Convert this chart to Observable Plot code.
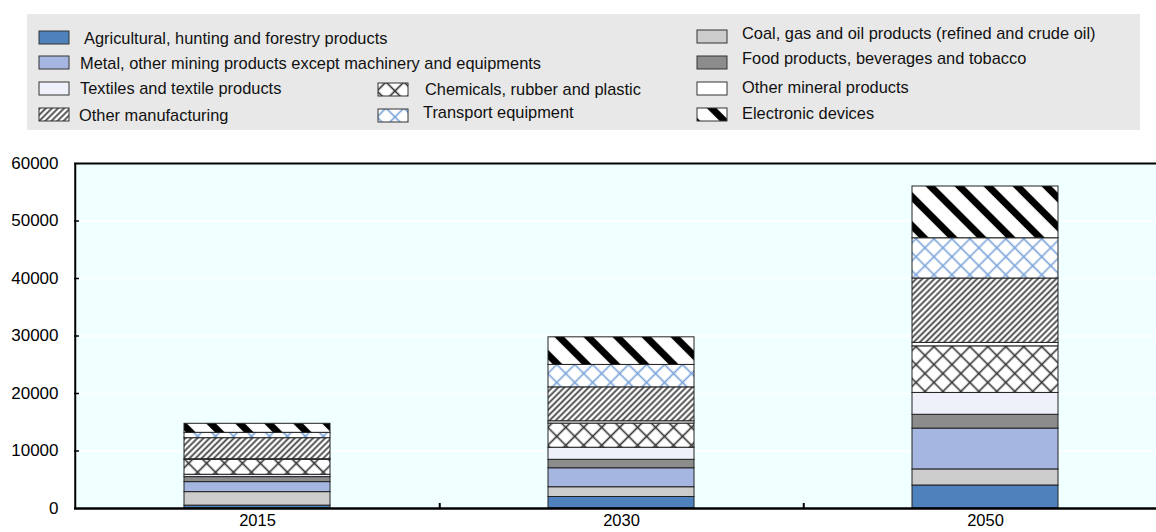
<!DOCTYPE html>
<html><head><meta charset="utf-8">
<script src="https://cdn.jsdelivr.net/npm/d3@7"></script>
<script src="https://cdn.jsdelivr.net/npm/@observablehq/plot@0.6"></script>
<style>
body{margin:0;background:#fff;font-family:"Liberation Sans",Arial,sans-serif;}
#wrap{position:relative;width:1156px;height:532px;overflow:hidden;}
#legendbg{position:absolute;left:27px;top:14px;width:1113px;height:116px;background:#e8e8e8;}
.lt{position:absolute;font-size:16.4px;line-height:20px;color:#111;white-space:nowrap;}
.ls{position:absolute;}
#chart{position:absolute;left:0;top:140px;}
</style></head><body>
<svg width="0" height="0" style="position:absolute">
<defs>
 <pattern id="p-chem" patternUnits="userSpaceOnUse" width="12.7" height="12.7" patternTransform="rotate(45)">
  <rect width="12.7" height="12.7" fill="#fff"/>
  <line x1="6.35" y1="0" x2="6.35" y2="12.7" stroke="#333" stroke-width="1.6"/>
  <line x1="0" y1="6.35" x2="12.7" y2="6.35" stroke="#333" stroke-width="1.6"/>
 </pattern>
 <pattern id="p-trans" patternUnits="userSpaceOnUse" width="12.7" height="12.7" patternTransform="rotate(45)">
  <rect width="12.7" height="12.7" fill="#fff"/>
  <line x1="6.35" y1="0" x2="6.35" y2="12.7" stroke="#7ba4da" stroke-width="1.6"/>
  <line x1="0" y1="6.35" x2="12.7" y2="6.35" stroke="#7ba4da" stroke-width="1.6"/>
 </pattern>
 <pattern id="p-manuf" patternUnits="userSpaceOnUse" width="4.3" height="4.3" patternTransform="rotate(45)">
  <rect width="4.3" height="4.3" fill="#fff"/>
  <line x1="2.15" y1="0" x2="2.15" y2="4.3" stroke="#444" stroke-width="1.8"/>
 </pattern>
 <pattern id="p-elec" patternUnits="userSpaceOnUse" width="20.5" height="20.5" patternTransform="rotate(-45)">
  <rect width="20.5" height="20.5" fill="#fff"/>
  <line x1="10.25" y1="0" x2="10.25" y2="20.5" stroke="#000" stroke-width="7"/>
 </pattern>
</defs></svg>
<div id="wrap"><div id="legendbg"></div><div id="chart"></div></div>
<script>
// ---- data ----
const years = ["2015", "2030", "2050"];
const seriesNames = [
  "Agricultural, hunting and forestry products",
  "Coal, gas and oil products (refined and crude oil)",
  "Metal, other mining products except machinery and equipments",
  "Food products, beverages and tobacco",
  "Textiles and textile products",
  "Chemicals, rubber and plastic",
  "Other mineral products",
  "Other manufacturing",
  "Transport equipment",
  "Electronic devices"
];
const agricultural  = [500, 2000, 4000];
const coalGasOil    = [2350, 1700, 2800];
const metalMining   = [1740, 3300, 7100];
const foodBeverages = [870, 1470, 2400];
const textiles      = [410, 2100, 3800];
const chemicals     = [2600, 4200, 8100];
const otherMineral  = [100, 400, 600];
const otherManuf    = [3660, 5900, 11200];
const transport     = [930, 3900, 7000];
const electronic    = [1570, 4800, 9000];
const yTicks = [0, 10000, 20000, 30000, 40000, 50000, 60000];

// ---- styles ----
const seriesValues = [agricultural, coalGasOil, metalMining, foodBeverages, textiles, chemicals, otherMineral, otherManuf, transport, electronic];
const fills = ["#4f81bd", "#cccccc", "#a5b7e0", "#8c8c8c", "#eef1f9", "url(#p-chem)", "#ffffff", "url(#p-manuf)", "url(#p-trans)", "url(#p-elec)"];

const rows = [];
seriesNames.forEach((s, i) => years.forEach((y, j) => rows.push({year: y, series: s, value: seriesValues[i][j], fill: fills[i]})));

// ---- legend layout ----
const legendLayout = [
  {i: 0, sx: 39, sy: 37, tx: 84, ty: 38},
  {i: 2, sx: 39, sy: 62, tx: 80, ty: 63},
  {i: 4, sx: 39, sy: 88, tx: 80, ty: 88},
  {i: 7, sx: 39, sy: 114, tx: 79, ty: 115},
  {i: 5, sx: 378, sy: 89, tx: 425, ty: 89},
  {i: 8, sx: 378, sy: 115, tx: 423, ty: 112},
  {i: 1, sx: 697, sy: 36, tx: 742, ty: 33},
  {i: 3, sx: 697, sy: 62, tx: 742, ty: 58},
  {i: 6, sx: 697, sy: 88, tx: 742, ty: 87},
  {i: 9, sx: 697, sy: 114, tx: 742, ty: 113}
];
const wrap = document.getElementById("wrap");
legendLayout.forEach(L => {
  const sw = document.createElementNS("http://www.w3.org/2000/svg", "svg");
  sw.setAttribute("class", "ls");
  sw.setAttribute("width", 32); sw.setAttribute("height", 15);
  sw.style.left = (L.sx - 1) + "px"; sw.style.top = (L.sy - 7.5) + "px";
  const r = document.createElementNS("http://www.w3.org/2000/svg", "rect");
  r.setAttribute("x", 1); r.setAttribute("y", 1); r.setAttribute("width", 30); r.setAttribute("height", 13);
  r.setAttribute("fill", fills[L.i]); r.setAttribute("stroke", "#333"); r.setAttribute("stroke-width", 1);
  sw.appendChild(r);
  wrap.appendChild(sw);
  const t = document.createElement("div");
  t.className = "lt";
  t.textContent = seriesNames[L.i];
  t.style.left = L.tx + "px"; t.style.top = (L.ty - 10) + "px";
  wrap.appendChild(t);
});

// ---- chart ----
const W = 1156, ML = 74, MR = 0;
const xRange = [ML, 1167.5];
const step = (xRange[1] - xRange[0]) / years.length;
const innerW = W - ML - MR;
const plot = Plot.plot({
  width: W, height: 392,
  marginTop: 23, marginBottom: 24, marginLeft: ML, marginRight: MR,
  style: {fontFamily: "'Liberation Sans', Arial, sans-serif", fontSize: "16px", color: "#000", background: "transparent"},
  x: {domain: years, range: xRange, paddingInner: 0.6, paddingOuter: 0.3, label: null},
  y: {domain: [0, 60000], label: null},
  color: {type: "identity"},
  marks: [
    Plot.frame({fill: "#f0ffff", stroke: "none"}),
    Plot.ruleY(yTicks.slice(1, -1), {stroke: "#fff", strokeWidth: 1.5}),
    Plot.barY(rows, {x: "year", y: "value", z: "series", fill: "fill", stroke: "#222", strokeWidth: 1, order: null}),
    Plot.ruleY([yTicks[yTicks.length - 1]], {stroke: "#000", strokeWidth: 2}),
    Plot.ruleY([0], {stroke: "#000", strokeWidth: 2.5}),
    Plot.ruleX(years.slice(0, 1), {x: d => d, y1: 0, y2: yTicks[yTicks.length - 1], dx: -step / 2, stroke: "#000", strokeWidth: 2}),
    Plot.ruleX(years.slice(0, -1), {x: d => d, y1: 0, y2: 0, insetTop: -5, dx: step / 2, stroke: "#000", strokeWidth: 2}),
    Plot.tickY(yTicks.slice(1, -1), {y: d => d, insetRight: innerW - 5, stroke: "#000", strokeWidth: 1.5}),
    Plot.axisY(yTicks, {tickSize: 0, tickPadding: 16, tickFormat: d3.format("d"), fontSize: 17}),
    Plot.axisX({tickSize: 0, tickPadding: 6, fontSize: 16.5})
  ]
});
document.getElementById("chart").appendChild(plot);
</script>
</body></html>
